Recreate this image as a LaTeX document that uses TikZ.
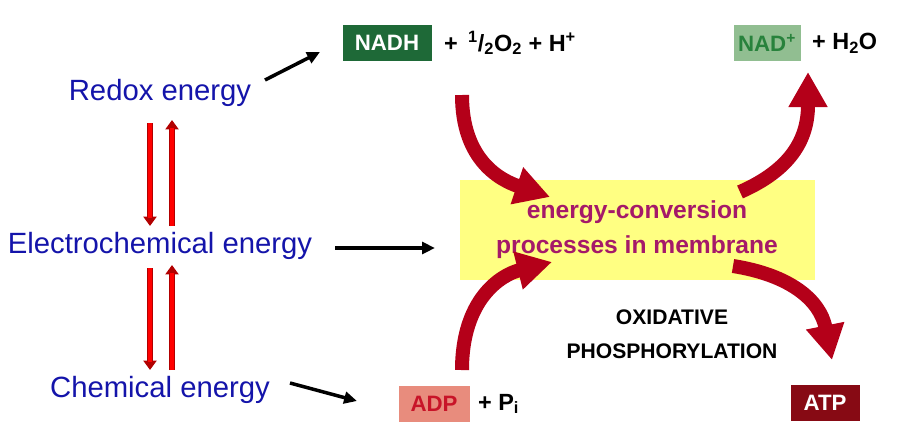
\documentclass[tikz,border=0pt]{standalone}
\usepackage{fontspec}
\setmainfont{Liberation Sans}
\usetikzlibrary{arrows.meta}
\definecolor{blu}{RGB}{20,20,170}
\definecolor{dgreen}{RGB}{30,105,55}
\definecolor{lgreen}{RGB}{145,190,145}
\definecolor{tgreen}{RGB}{40,130,60}
\definecolor{yel}{RGB}{255,255,130}
\definecolor{mag}{RGB}{165,25,105}
\definecolor{salmon}{RGB}{232,140,125}
\definecolor{adpred}{RGB}{200,20,40}
\definecolor{atpred}{RGB}{135,10,20}
\definecolor{arr}{RGB}{180,0,25}
\begin{document}
\begin{tikzpicture}[x=0.03cm,y=-0.03cm,
  lbl/.style={text=blu,font=\fontsize{25}{28}\selectfont},
  chem/.style={font=\fontsize{20}{24}\selectfont\bfseries,anchor=west},
  mol/.style={minimum width=#1*0.03cm,minimum height=1.1cm,inner sep=0pt,font=\fontsize{19}{22}\selectfont\bfseries,draw=white,line width=0.6pt},
  blk/.style={-{Triangle[length=11pt,width=10pt]},line width=3pt},
  big/.style={draw=arr,line width=0.42cm,-{Triangle[length=1.05cm,width=1.1cm]}}]
\useasboundingbox (0,0) rectangle (909,445);
% molecules
\node[mol=90,fill=dgreen,text=white] (nadh) at (387,43) {NADH};
\node[chem] (nadhp) at (440,43) {+ \,\textsuperscript{1}/\textsubscript{2}O\textsubscript{2} + H\textsuperscript{+}};
\node[mol=68,fill=lgreen,text=tgreen] (nad) at (767,43) {NAD\textsuperscript{+}};
\node[chem] (nadp) at (808,43) {+ H\textsubscript{2}O};
\node[mol=72,fill=salmon,text=adpred] (adp) at (434,404) {ADP};
\node[chem] (adpp) at (474,404) {+ P\textsubscript{i}};
\node[mol=70,fill=atpred,text=white] (atp) at (825,403) {ATP};
% labels
\node[lbl] (redox) at (160,93) {Redox energy};
\node[lbl] (elec) at (160,246) {Electrochemical energy};
\node[lbl] (chemE) at (160,390) {Chemical energy};
% yellow box
\node[fill=yel,minimum width=355*0.03cm,minimum height=100*0.03cm,text=mag,align=center,
  font=\fontsize{21}{30}\selectfont\bfseries] (box) at (637,230) {energy-conversion\\processes in membrane};
\node[align=center,font=\fontsize{18}{29}\selectfont\bfseries] (ox) at (672,334) {OXIDATIVE\\PHOSPHORYLATION};
% black arrows
\coordinate (r1) at (265,80); \coordinate (r2) at (320,52);
\draw[blk] (r1) -- (r2);
\coordinate (e1) at (335,248); \coordinate (e2) at (435,248);
\draw[blk] (e1) -- (e2);
\coordinate (c1) at (290,383); \coordinate (c2) at (357,401);
\draw[blk] (c1) -- (c2);
% red double arrows
\coordinate (d1) at (150,123); \coordinate (d2) at (150,226);
\coordinate (u1) at (172,226); \coordinate (u2) at (172,120);
\coordinate (d3) at (150,268); \coordinate (d4) at (150,370);
\coordinate (u3) at (172,370); \coordinate (u4) at (172,265);
\foreach \a/\b in {d1/d2,u1/u2,d3/d4,u3/u4}
  \draw[draw=red!70!black,line width=5pt,-{Triangle[length=8pt,width=11pt]}] (\a) -- (\b);
\foreach \a/\b in {d1/d2,u1/u2,d3/d4,u3/u4}
  \draw[draw=red,line width=3pt,shorten >=7pt] (\a) -- (\b);
% big curved arrows
\coordinate (a1s) at (462,95); \coordinate (a1e) at (550,197);
\draw[big] (a1s) .. controls (462,160) and (500,180) .. (a1e);
\coordinate (a2s) at (740,192); \coordinate (a2e) at (808,72);
\draw[big] (a2s) .. controls (790,170) and (808,140) .. (a2e);
\coordinate (a3s) at (462,370); \coordinate (a3e) at (552,262);
\draw[big] (a3s) .. controls (462,300) and (500,275) .. (a3e);
\coordinate (a4s) at (733,266); \coordinate (a4e) at (832,360);
\draw[big] (a4s) .. controls (790,275) and (820,300) .. (a4e);
\end{tikzpicture}
\end{document}
